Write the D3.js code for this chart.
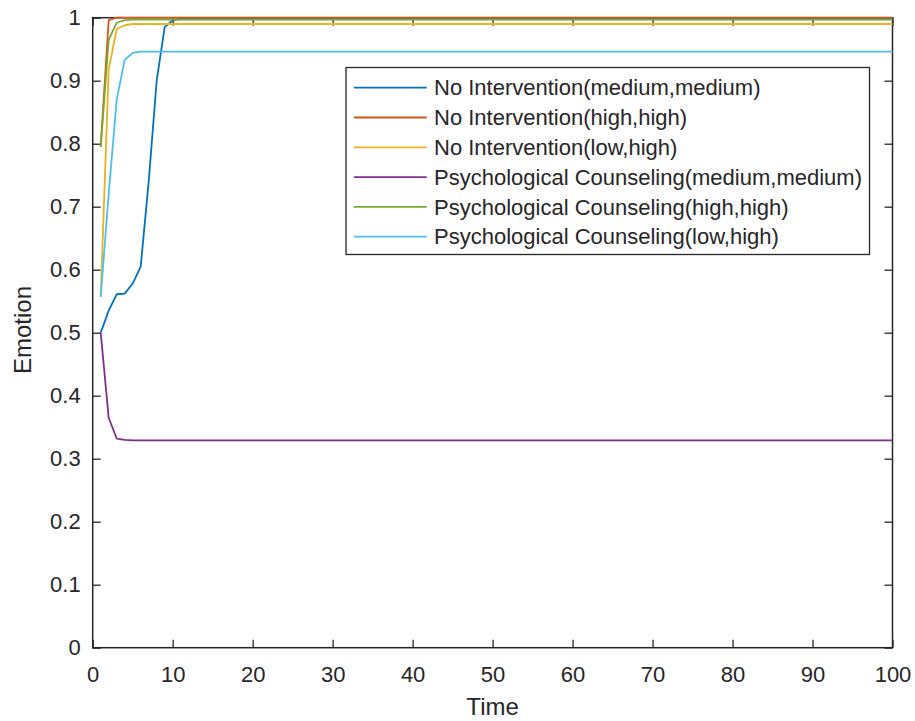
<!DOCTYPE html>
<html>
<head>
<meta charset="utf-8">
<script src="https://cdn.jsdelivr.net/npm/d3@7"></script>
<style>
  body { margin: 0; background: #fff; }
  svg text { font-family: "Liberation Sans", Arial, sans-serif; fill: #262626; }
</style>
</head>
<body>
<div class="myChart"></div>
<script>
//Data (time steps shown, later values stay flat until t = 100)
var timeSteps = [1, 2, 3, 4, 5, 6, 7, 8, 9, 10, 11, 12, 100];
var noIntMedMed = [0.5, 0.535, 0.561, 0.562, 0.578, 0.605, 0.74, 0.9, 0.985, 0.996, 0.998, 0.998, 0.998];
var noIntHighHigh = [0.795, 0.996, 1.0, 1.0, 1.0, 1.0, 1.0, 1.0, 1.0, 1.0, 1.0, 1.0, 1.0];
var noIntLowHigh = [0.557, 0.918, 0.982, 0.988, 0.99, 0.99, 0.99, 0.99, 0.99, 0.99, 0.99, 0.99, 0.99];
var counselMedMed = [0.5, 0.365, 0.332, 0.33, 0.329, 0.329, 0.329, 0.329, 0.329, 0.329, 0.329, 0.329, 0.329];
var counselHighHigh = [0.795, 0.965, 0.992, 0.996, 0.997, 0.997, 0.997, 0.997, 0.997, 0.997, 0.997, 0.997, 0.997];
var counselLowHigh = [0.557, 0.72, 0.87, 0.933, 0.944, 0.946, 0.946, 0.946, 0.946, 0.946, 0.946, 0.946, 0.946];

var seriesNames = [
    "No Intervention(medium,medium)",
    "No Intervention(high,high)",
    "No Intervention(low,high)",
    "Psychological Counseling(medium,medium)",
    "Psychological Counseling(high,high)",
    "Psychological Counseling(low,high)"
];
var seriesValues = [noIntMedMed, noIntHighHigh, noIntLowHigh, counselMedMed, counselHighHigh, counselLowHigh];
var seriesColors = ["#0072BD", "#D95319", "#EDB120", "#7E2F8E", "#77AC30", "#4DBEEE"];

var xTicks = d3.range(0, 101, 10);
var yTicks = d3.range(0, 11).map(function(d) { return d / 10; });

//Canvas Size
var width = 915;
var height = 721;
var margin = { top: 17.7, left: 92.7, right: 22.5, bottom: 73.3 };
var innerWidth = width - margin.left - margin.right;
var innerHeight = height - margin.top - margin.bottom;
var axisColor = "#262626";

//Scales
var xScale = d3.scaleLinear().domain([0, 100]).range([0, innerWidth]);
var yScale = d3.scaleLinear().domain([0, 1]).range([innerHeight, 0]);

var svg = d3.select(".myChart").append("svg")
    .attr("width", width)
    .attr("height", height);

var g = svg.append("g")
    .attr("transform", "translate(" + margin.left + "," + margin.top + ")");

//Axes (ticks pointing inward, box on)
function styleAxis(sel, keepText) {
    sel.select(".domain").remove();
    sel.selectAll(".tick line").attr("stroke", axisColor).attr("stroke-width", 1.3);
    if (!keepText) {
        sel.selectAll(".tick text").remove();
        return;
    }
    sel.selectAll("text")
        .style("font-size", "22px")
        .style("font-family", "'Liberation Sans', Arial, sans-serif")
        .attr("fill", axisColor);
}

var bottomAxis = g.append("g")
    .attr("transform", "translate(0," + innerHeight + ")")
    .call(d3.axisBottom(xScale).tickValues(xTicks).tickSizeInner(-8).tickSizeOuter(0).tickPadding(19));
styleAxis(bottomAxis, true);

var leftAxis = g.append("g")
    .call(d3.axisLeft(yScale).tickValues(yTicks).tickFormat(d3.format("")).tickSizeInner(-8).tickSizeOuter(0).tickPadding(12));
styleAxis(leftAxis, true);

var topAxis = g.append("g")
    .call(d3.axisTop(xScale).tickValues(xTicks).tickSizeInner(-8).tickSizeOuter(0));
styleAxis(topAxis, false);

var rightAxis = g.append("g")
    .attr("transform", "translate(" + innerWidth + ",0)")
    .call(d3.axisRight(yScale).tickValues(yTicks).tickSizeInner(-8).tickSizeOuter(0));
styleAxis(rightAxis, false);

//Box
g.append("rect")
    .attr("x", 0)
    .attr("y", 0)
    .attr("width", innerWidth)
    .attr("height", innerHeight)
    .attr("fill", "none")
    .attr("stroke", axisColor)
    .attr("stroke-width", 1.5);

//Series lines (on top of the box edge like matlab)
var line = d3.line()
    .x(function(d, i) { return xScale(timeSteps[i]); })
    .y(function(d) { return yScale(d); });

g.selectAll("path.series")
    .data(seriesValues)
    .enter()
    .append("path")
    .attr("class", "series")
    .attr("d", line)
    .attr("fill", "none")
    .attr("stroke", function(d, i) { return seriesColors[i]; })
    .attr("stroke-width", 1.8)
    .attr("stroke-linejoin", "round");

//Axis labels
svg.append("text")
    .attr("x", margin.left + innerWidth / 2)
    .attr("y", 715)
    .attr("text-anchor", "middle")
    .style("font-size", "24px")
    .text("Time");

svg.append("text")
    .attr("transform", "translate(31,330) rotate(-90)")
    .attr("text-anchor", "middle")
    .style("font-size", "24px")
    .text("Emotion");

//Legend
var legend = svg.append("g").attr("transform", "translate(346,67.5)");
legend.append("rect")
    .attr("width", 523.5)
    .attr("height", 187)
    .attr("fill", "#fff")
    .attr("stroke", axisColor)
    .attr("stroke-width", 1.3);

var rows = legend.selectAll("g.row")
    .data(seriesNames)
    .enter()
    .append("g")
    .attr("class", "row")
    .attr("transform", function(d, i) { return "translate(0," + (20.2 + i * 29.8) + ")"; });

rows.append("line")
    .attr("x1", 8)
    .attr("x2", 80.7)
    .attr("stroke", function(d, i) { return seriesColors[i]; })
    .attr("stroke-width", 1.8);

rows.append("text")
    .attr("x", 88)
    .attr("dy", "0.35em")
    .style("font-size", "22px")
    .text(function(d) { return d; });
</script>
</body>
</html>
